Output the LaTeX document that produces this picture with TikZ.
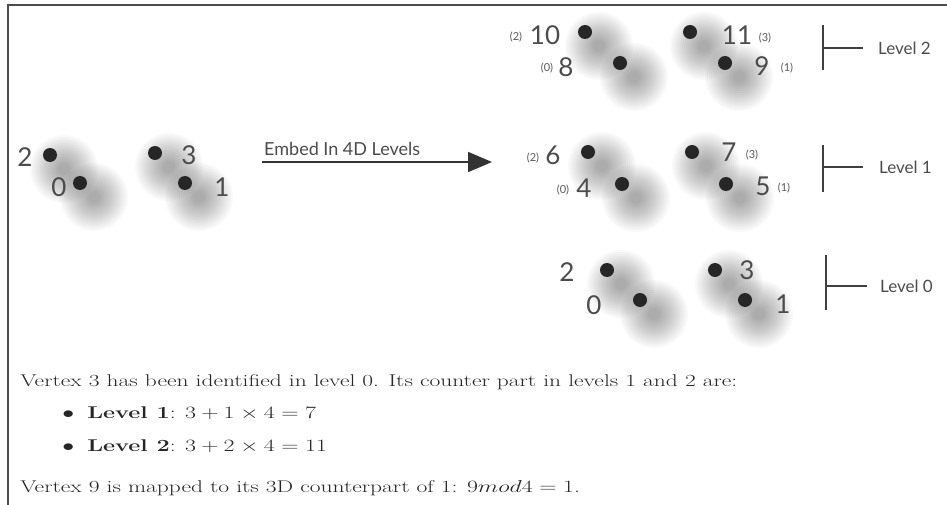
\documentclass[tikz,border=0pt]{standalone}
\usepackage{fontspec}
\newfontfamily\lab{Lato}
\usetikzlibrary{calc,arrows.meta}
\begin{document}
\begin{tikzpicture}[x=1pt,y=-1pt,
  dot/.style={circle,fill=black!85,inner sep=0pt,minimum size=14pt},
  num/.style={font=\lab\fontsize{26}{26}\selectfont,text=black!70,inner sep=0pt},
  sml/.style={font=\lab\fontsize{11}{11}\selectfont,text=black!65,inner sep=0pt},
  lvl/.style={font=\lab\fontsize{17}{17}\selectfont,text=black!70,inner sep=0pt,anchor=west},
  body/.style={font=\fontsize{17}{18}\selectfont,inner sep=0pt,anchor=base west,text=black!85,xscale=1.38},
  bar/.style={line width=1.2pt,black!75}]
\useasboundingbox (0,0) rectangle (947,505);
\fill[white] (0,0) rectangle (947,505);
% frame
\draw[line width=1.5pt,black!70] (8,505) -- (8,5) -- (947,5);
% dot positions
\foreach \n/\x/\y in {a2/50/155, a0/80/183, a3/155/153, a1/185/183,
  t10/585/32, t8/620/63, t11/690/32, t9/725/63,
  m6/588/152, m4/622/184, m7/692/152, m5/726/184,
  b2/607/270, b0/640/300, b3/715/270, b1/745/300}
  \coordinate (c\n) at (\x,\y);
% glows
\foreach \n in {a2,a0,a3,a1,t10,t8,t11,t9,m6,m4,m7,m5,b2,b0,b3,b1}
  \foreach \r in {34,32,...,6}
    \fill[black,opacity=0.022] ($(c\n)+(14,14)$) circle (\r);
% dots
\foreach \n in {a2,a0,a3,a1,t10,t8,t11,t9,m6,m4,m7,m5,b2,b0,b3,b1}
  \node[dot] (\n) at (c\n) {};
% left group labels
\node[num] (la2) at (25,157) {2};
\node[num] (la0) at (59,187) {0};
\node[num] (la3) at (189,155) {3};
\node[num] (la1) at (222,187) {1};
% arrow
\coordinate (arrS) at (262,162);
\coordinate (arrE) at (492,162);
\draw[line width=1.8pt,black!80,-{Triangle[length=24pt,width=20pt]}] (arrS) -- (arrE);
\node[font=\lab\fontsize{18}{18}\selectfont,text=black!70,anchor=base west,inner sep=0pt] (emb) at (264,156) {Embed In 4D Levels};
% level 2
\node[sml] (s10) at (516,37) {(2)};
\node[num] (l10) at (545,35) {10};
\node[sml] (s8) at (547,68) {(0)};
\node[num] (l8) at (566,67) {8};
\node[num] (l11) at (737,35) {11};
\node[sml] (s11) at (765,38) {(3)};
\node[num] (l9) at (762,66) {9};
\node[sml] (s9) at (787,68) {(1)};
% level 1
\node[sml] (s6) at (533,158) {(2)};
\node[num] (l6) at (553,155) {6};
\node[sml] (s4) at (563,190) {(0)};
\node[num] (l4) at (584,188) {4};
\node[num] (l7) at (729,152) {7};
\node[sml] (s7) at (752,155) {(3)};
\node[num] (l5) at (763,186) {5};
\node[sml] (s5) at (784,188) {(1)};
% level 0
\node[num] (lb2) at (567,272) {2};
\node[num] (lb0) at (594,305) {0};
\node[num] (lb3) at (747,270) {3};
\node[num] (lb1) at (783,304) {1};
% level bars
\coordinate (v2t) at (823,25); \coordinate (v2b) at (823,70);
\coordinate (v2m) at (823,48); \coordinate (h2) at (863,48);
\draw[bar] (v2t) -- (v2b); \draw[bar] (v2m) -- (h2);
\node[lvl] (lev2) at (878,48) {Level 2};
\coordinate (v1t) at (823,145); \coordinate (v1b) at (823,192);
\coordinate (v1m) at (823,167); \coordinate (h1) at (863,167);
\draw[bar] (v1t) -- (v1b); \draw[bar] (v1m) -- (h1);
\node[lvl] (lev1) at (879,167) {Level 1};
\coordinate (v0t) at (826,255); \coordinate (v0b) at (826,310);
\coordinate (v0m) at (826,286); \coordinate (h0) at (867,286);
\draw[bar] (v0t) -- (v0b); \draw[bar] (v0m) -- (h0);
\node[lvl] (lev0) at (880,286) {Level 0};
% body text
\node[body] (t1) at (20,386) {Vertex 3 has been identified in level 0. Its counter part in levels 1 and 2 are:};
\node[body] (bu1) at (62,418) {$\bullet$};
\node[body] (t2) at (87,418) {\textbf{Level 1}: $3+1\times4=7$};
\node[body] (bu2) at (62,451) {$\bullet$};
\node[body] (t3) at (87,451) {\textbf{Level 2}: $3+2\times4=11$};
\node[body] (t4) at (20,492) {Vertex 9 is mapped to its 3D counterpart of 1: $9 mod4=1$.};
\end{tikzpicture}
\end{document}
